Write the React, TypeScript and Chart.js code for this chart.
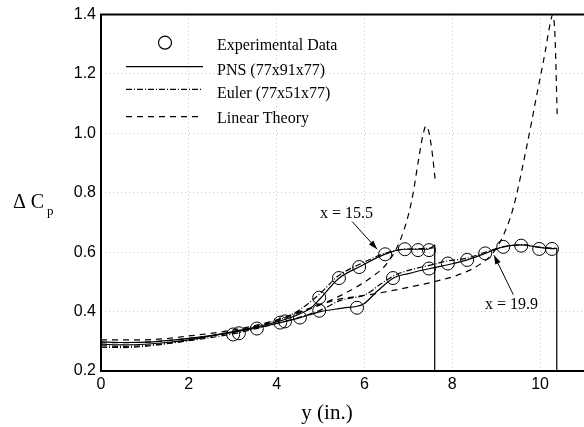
import React, { useEffect, useRef } from "react";
import { Chart, registerables } from "chart.js";
Chart.register(...registerables);

// ---------- data ----------
const expX = [3.01, 3.14, 3.55, 4.08, 4.19, 4.53, 4.97, 5.42, 5.88, 6.47, 6.92, 7.22, 7.47, 4.97, 5.83, 6.65, 7.47, 7.9, 8.34, 8.75, 9.16, 9.57, 9.98, 10.27];
const expY = [0.323, 0.327, 0.343, 0.363, 0.367, 0.38, 0.447, 0.513, 0.55, 0.593, 0.61, 0.607, 0.607, 0.403, 0.413, 0.513, 0.545, 0.562, 0.574, 0.596, 0.618, 0.622, 0.611, 0.611];

const pns155X = [0, 0.5, 1, 1.5, 2, 2.5, 3, 3.5, 4, 4.5, 4.8, 5.0, 5.4, 5.9, 6.5, 6.9, 7.2, 7.45, 7.6];
const pns155Y = [0.29, 0.288, 0.29, 0.296, 0.305, 0.318, 0.332, 0.347, 0.365, 0.39, 0.415, 0.445, 0.51, 0.552, 0.595, 0.61, 0.61, 0.61, 0.625];

const eul155X = [0, 0.5, 1, 1.5, 2, 2.5, 3, 3.5, 4, 4.4, 4.7, 5.0, 5.4, 5.9, 6.5, 6.9, 7.3, 7.6];
const eul155Y = [0.28, 0.279, 0.283, 0.292, 0.303, 0.318, 0.333, 0.35, 0.37, 0.395, 0.425, 0.462, 0.52, 0.56, 0.598, 0.61, 0.612, 0.615];

const lin155X = [0, 1, 2, 3, 4, 4.5, 5.1, 5.6, 6.2, 6.5, 6.8, 7.0, 7.11, 7.23, 7.34, 7.4, 7.45, 7.53, 7.61];
const lin155Y = [0.305, 0.305, 0.318, 0.338, 0.372, 0.398, 0.43, 0.465, 0.52, 0.56, 0.635, 0.725, 0.8, 0.91, 1.0, 1.025, 1.015, 0.95, 0.845];

const pns199X = [0, 0.5, 1, 2, 3, 4, 4.5, 5.0, 5.5, 5.97, 6.3, 6.67, 7.0, 7.49, 8.03, 8.34, 8.75, 9.16, 9.57, 9.98, 10.3, 10.38];
const pns199Y = [0.298, 0.296, 0.297, 0.31, 0.33, 0.36, 0.378, 0.4, 0.412, 0.425, 0.47, 0.514, 0.528, 0.545, 0.562, 0.574, 0.596, 0.618, 0.625, 0.616, 0.612, 0.613];

const eul199X = [0, 0.5, 1, 2, 3, 4, 4.5, 5.0, 5.44, 6.05, 6.36, 6.66, 6.96, 7.57, 7.87, 8.34, 8.75, 9.16, 9.57, 9.98, 10.38];
const eul199Y = [0.285, 0.283, 0.286, 0.302, 0.325, 0.36, 0.38, 0.405, 0.437, 0.459, 0.492, 0.52, 0.537, 0.559, 0.57, 0.58, 0.6, 0.618, 0.625, 0.617, 0.613];

const lin199X = [0, 1, 2, 3, 4, 4.6, 5.29, 6.2, 6.81, 7.57, 8.18, 8.63, 8.94, 9.17, 9.39, 9.7, 9.92, 10.11, 10.23, 10.29, 10.34, 10.39];
const lin199Y = [0.295, 0.297, 0.31, 0.33, 0.368, 0.4, 0.437, 0.459, 0.476, 0.5, 0.526, 0.559, 0.6, 0.659, 0.75, 0.959, 1.126, 1.27, 1.37, 1.4, 1.325, 1.059];

const drop155X = [7.6, 7.6];
const drop155Y = [0.625, 0.2];
const drop199X = [10.38, 10.38];
const drop199Y = [0.613, 0.2];

const xTicks = [0, 2, 4, 6, 8, 10];
const yTicks = [0.2, 0.4, 0.6, 0.8, 1.0, 1.2, 1.4];

const legendLabels = ["Experimental Data", "PNS (77x91x77)", "Euler (77x51x77)", "Linear Theory"];
const annotations = [
  { text: "x = 15.5", tx: 5.59, ty: 0.73, fromX: 5.72, fromY: 0.703, toX: 6.29, toY: 0.61 },
  { text: "x = 19.9", tx: 9.35, ty: 0.423, fromX: 9.39, fromY: 0.457, toX: 8.95, toY: 0.59 },
];

const SERIF = "'Liberation Serif', 'DejaVu Serif', serif";
const SANS = "'Liberation Sans', Arial, sans-serif";
const DASHDOT = [6, 2, 1, 2];
const DASHED = [6, 5];

const pts = (xs: number[], ys: number[]) => xs.map((x, i) => ({ x, y: ys[i] }));

function lineDs(xs: number[], ys: number[], dash: number[], mono = true) {
  return {
    type: "line" as const,
    data: pts(xs, ys),
    borderColor: "#000",
    borderWidth: 1.2,
    borderDash: dash,
    pointRadius: 0,
    fill: false,
    showLine: true,
    cubicInterpolationMode: mono ? ("monotone" as const) : ("default" as const),
    tension: 0,
  };
}

function arrow(ctx: CanvasRenderingContext2D, x1: number, y1: number, x2: number, y2: number) {
  ctx.beginPath();
  ctx.moveTo(x1, y1);
  ctx.lineTo(x2, y2);
  ctx.stroke();
  const a = Math.atan2(y2 - y1, x2 - x1);
  const L = 9, W = 3;
  ctx.beginPath();
  ctx.moveTo(x2, y2);
  ctx.lineTo(x2 - L * Math.cos(a) + W * Math.sin(a), y2 - L * Math.sin(a) - W * Math.cos(a));
  ctx.lineTo(x2 - L * Math.cos(a) - W * Math.sin(a), y2 - L * Math.sin(a) + W * Math.cos(a));
  ctx.closePath();
  ctx.fill();
}

const decorPlugin = {
  id: "decor",
  afterDatasetsDraw(chart: any) {
    const { ctx, chartArea, scales } = chart;
    const xs = scales.x, ys = scales.y;
    ctx.save();
    // frame
    ctx.strokeStyle = "#000";
    ctx.lineWidth = 2;
    ctx.setLineDash([]);
    ctx.beginPath();
    ctx.moveTo(chart.width + 2, chartArea.top);
    ctx.lineTo(chartArea.left, chartArea.top);
    ctx.lineTo(chartArea.left, chartArea.bottom);
    ctx.lineTo(chart.width + 2, chartArea.bottom);
    ctx.stroke();

    // legend
    const lx0 = 126, lx1 = 203, tx = 217;
    const rows = [42.7, 66.7, 89.3, 116.7];
    const bases = [50, 75, 98, 123];
    ctx.lineWidth = 1.2;
    ctx.beginPath();
    ctx.arc(165, rows[0], 6.5, 0, Math.PI * 2);
    ctx.stroke();
    const dashes = [[], DASHDOT, DASHED];
    for (let i = 0; i < 3; i++) {
      ctx.setLineDash(dashes[i]);
      ctx.beginPath();
      ctx.moveTo(lx0, rows[i + 1]);
      ctx.lineTo(lx1, rows[i + 1]);
      ctx.stroke();
    }
    ctx.setLineDash([]);
    ctx.fillStyle = "#000";
    ctx.font = `16px ${SERIF}`;
    ctx.textAlign = "left";
    ctx.textBaseline = "alphabetic";
    legendLabels.forEach((t, i) => ctx.fillText(t, tx, bases[i]));

    // annotations
    ctx.lineWidth = 1;
    annotations.forEach((a) => {
      ctx.font = `16px ${SERIF}`;
      ctx.textAlign = "center";
      ctx.textBaseline = "middle";
      ctx.fillText(a.text, xs.getPixelForValue(a.tx), ys.getPixelForValue(a.ty));
      arrow(ctx, xs.getPixelForValue(a.fromX), ys.getPixelForValue(a.fromY), xs.getPixelForValue(a.toX), ys.getPixelForValue(a.toY));
    });

    // axis titles
    ctx.textAlign = "left";
    ctx.textBaseline = "alphabetic";
    ctx.font = `20px ${SERIF}`;
    ctx.fillText("\u0394 C", 13, 208);
    ctx.font = `13px ${SERIF}`;
    ctx.fillText("p", 47, 215);
    ctx.font = `21px ${SERIF}`;
    ctx.textAlign = "center";
    ctx.fillText("y (in.)", 327, 419);
    ctx.restore();
  },
};

export default function App() {
  const ref = useRef<HTMLCanvasElement>(null);
  useEffect(() => {
    document.body.style.margin = "0";
    const canvas = ref.current!;
    const chart = new Chart(canvas, {
      type: "scatter",
      data: {
        datasets: [
          lineDs(pns155X, pns155Y, []),
          lineDs(eul155X, eul155Y, DASHDOT),
          lineDs(lin155X, lin155Y, DASHED),
          lineDs(pns199X, pns199Y, []),
          lineDs(eul199X, eul199Y, DASHDOT),
          lineDs(lin199X, lin199Y, DASHED),
          lineDs(drop155X, drop155Y, [], false),
          lineDs(drop199X, drop199Y, [], false),
          {
            type: "scatter" as const,
            data: pts(expX, expY),
            pointStyle: "circle",
            pointRadius: 6.5,
            pointBorderWidth: 1,
            pointBorderColor: "#000",
            pointBackgroundColor: "rgba(0,0,0,0)",
            showLine: false,
          } as any,
        ],
      },
      options: {
        animation: false,
        responsive: false,
        maintainAspectRatio: false,
        devicePixelRatio: 1,
        layout: { autoPadding: false, padding: { top: 11, right: 0, left: 0, bottom: 0 } },
        plugins: { legend: { display: false }, tooltip: { enabled: false } },
        scales: {
          x: {
            type: "linear",
            min: 0,
            max: 11,
            afterBuildTicks: (s: any) => { s.ticks = xTicks.map((v) => ({ value: v })); },
            afterFit: (s: any) => { s.height = 56; },
            ticks: { font: { family: SANS, size: 16 }, color: "#000", padding: 4, maxRotation: 0, autoSkip: false },
            grid: { color: "#c8c8c8", lineWidth: 1, drawTicks: false },
            border: { display: false, dash: [1, 3] },
          },
          y: {
            type: "linear",
            min: 0.2,
            max: 1.4,
            afterBuildTicks: (s: any) => { s.ticks = yTicks.map((v) => ({ value: v })); },
            afterFit: (s: any) => { s.width = 101; },
            ticks: { font: { family: SANS, size: 16 }, color: "#000", padding: 5, callback: (v: any) => Number(v).toFixed(1), autoSkip: false },
            grid: { color: "#c8c8c8", lineWidth: 1, drawTicks: false },
            border: { display: false, dash: [1, 3] },
          },
        },
      },
      plugins: [decorPlugin],
    } as any);
    return () => chart.destroy();
  }, []);
  return (
    <div style={{ width: 584, height: 427 }}>
      <canvas ref={ref} width={584} height={427} style={{ display: "block" }} />
    </div>
  );
}
